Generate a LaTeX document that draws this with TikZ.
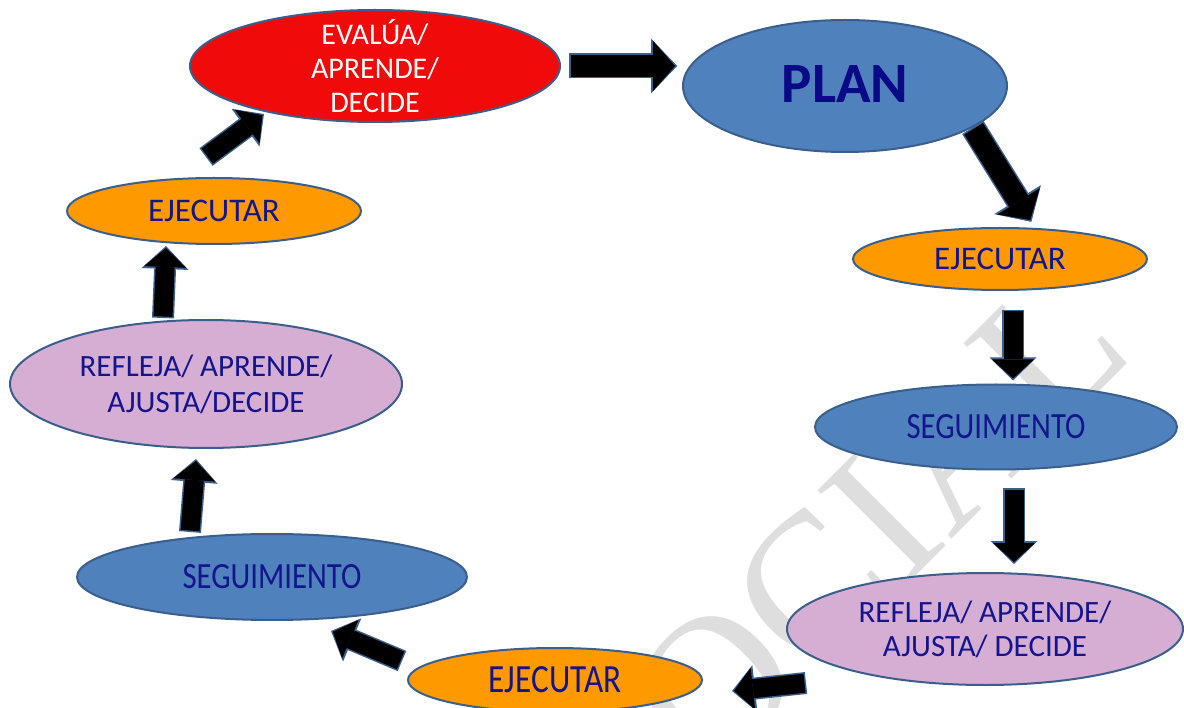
\documentclass[tikz,border=0pt]{standalone}
\usepackage{fontspec}
\setmainfont{Carlito}
\newfontfamily\narrowfont{Carlito}[FakeStretch=0.83]
\newfontfamily\markfont{Liberation Serif}
\usetikzlibrary{shapes.geometric}
\usetikzlibrary{arrows.meta}
\definecolor{cb}{RGB}{58,95,140}
\definecolor{ct}{RGB}{20,20,140}
\definecolor{cplan}{RGB}{10,10,135}
\definecolor{cred}{RGB}{240,10,10}
\definecolor{cblue}{RGB}{79,129,189}
\definecolor{corange}{RGB}{255,153,0}
\definecolor{cpink}{RGB}{214,174,212}
\definecolor{cmark}{RGB}{222,222,222}
\tikzstyle{stage}=[ellipse, draw=cb, line width=2pt, text=ct, inner sep=0pt, align=center, font=\fontsize{30}{34}\selectfont]
\tikzstyle{narrow}=[font=\narrowfont\fontsize{37}{40}\selectfont]
\tikzstyle{watermark}=[cmark, rotate=45, font=\markfont\fontsize{198}{198}\selectfont]
\tikzstyle{arrow}=[black, line width=19pt, shorten <=1.5pt, shorten >=2pt, -{Triangle[length=19pt, width=42pt, line width=0pt]},
  preaction={draw=cb, line width=22pt, shorten <=0pt, shorten >=0pt, -{Triangle[length=23pt, width=47pt, line width=0pt, color=cb, fill=cb]}}]
\tikzstyle{bigarrow}=[arrow, line width=22pt, -{Triangle[length=22pt, width=50pt, line width=0pt]},
  preaction={draw=cb, line width=25pt, shorten <=0pt, shorten >=0pt, -{Triangle[length=26pt, width=55pt, line width=0pt, color=cb, fill=cb]}}]

\begin{document}
\begin{tikzpicture}[x=1pt, y=-1pt]
  \useasboundingbox (0,0) rectangle (1184,708);
  \clip (0,0) rectangle (1184,708);
  \node [watermark] (wm) at (878,522) {OCIAL};

  \node [stage, fill=cred, text=white, minimum width=370, minimum height=112, inner ysep=-12pt] (evalua) at (375,66) {EVALÚA/\\APRENDE/\\DECIDE};
  \node [stage, fill=cblue, minimum width=324, minimum height=132, text=cplan, font=\bfseries\fontsize{57}{60}\selectfont] (plan) at (845,86) {\raisebox{3pt}{PLAN}};
  \node [stage, fill=corange, minimum width=294, minimum height=62, font=\fontsize{33}{36}\selectfont] (ejr) at (1000,259) {EJECUTAR};
  \node [stage, narrow, fill=cblue, minimum width=362, minimum height=85] (segr) at (996,427) {SEGUIMIENTO};
  \node [stage, fill=cpink, minimum width=396, minimum height=112, font=\fontsize{31}{34}\selectfont] (reflr) at (985,629) {REFLEJA/ APRENDE/\\AJUSTA/ DECIDE};
  \node [stage, narrow, fill=corange, minimum width=294, minimum height=64, font=\narrowfont\fontsize{40}{42}\selectfont] (ejb) at (555,680) {EJECUTAR};
  \node [stage, narrow, fill=cblue, minimum width=390, minimum height=86] (segl) at (272,577) {SEGUIMIENTO};
  \node [stage, fill=cpink, minimum width=392, minimum height=128, font=\fontsize{31}{36}\selectfont] (refll) at (206,384) {REFLEJA/ APRENDE/\\AJUSTA/DECIDE};
  \node [stage, fill=corange, minimum width=294, minimum height=66, font=\fontsize{33}{36}\selectfont] (ejl) at (214,211) {EJECUTAR};

  \draw [bigarrow] ([xshift=8pt]evalua.east) -- ([shift={(-5pt,20pt)}]plan.west);
  \draw [bigarrow] (plan.-18) -- ([yshift=6pt]ejr.45);
  \draw [arrow] ([shift={(13pt,-19pt)}]ejr.south) -- ([shift={(17pt,3pt)}]segr.north);
  \draw [arrow] ([shift={(18pt,-18pt)}]segr.south) -- ([shift={(29pt,8pt)}]reflr.north);
  \draw [arrow] ([shift={(20pt,-54pt)}]reflr.west) -- ([shift={(29pt,-11pt)}]ejb.east);
  \draw [arrow] ([shift={(-5pt,19pt)}]ejb.west) -- ([shift={(59pt,-10pt)}]segl.south);
  \draw [arrow] ([shift={(-82pt,1pt)}]segl.north) -- ([shift={(-10pt,-10pt)}]refll.south);
  \draw [arrow] ([shift={(-43pt,1pt)}]refll.north) -- ([shift={(-48pt,-1pt)}]ejl.south);
  \draw [arrow] ([shift={(-8pt,20pt)}]ejl.north) -- ([shift={(-111pt,9pt)}]evalua.south);
\end{tikzpicture}
\end{document}
